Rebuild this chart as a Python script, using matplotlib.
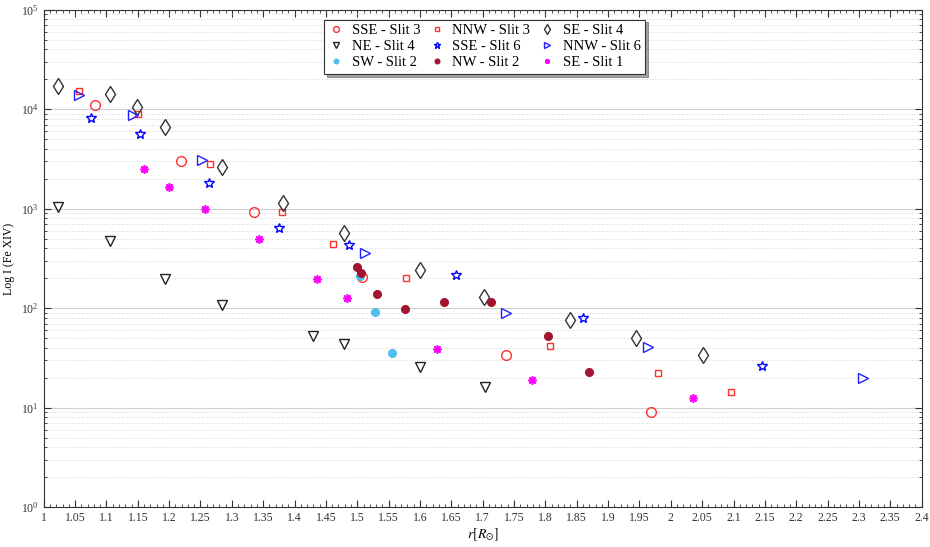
import matplotlib
matplotlib.use("Agg")
import matplotlib.pyplot as plt
from matplotlib.ticker import MultipleLocator, LogLocator, FormatStrFormatter, NullFormatter

plt.rcParams['font.family'] = ['Liberation Serif', 'DejaVu Serif']
plt.rcParams['mathtext.fontset'] = 'stix'

# ---- data (r in solar radii, intensity) ----
sse3_r = [1.081, 1.219, 1.335, 1.508, 1.738, 1.969]
sse3_i = [11100, 3020, 922, 207, 33.8, 9.1]

nnw3_r = [1.057, 1.150, 1.265, 1.380, 1.461, 1.577, 1.808, 1.980, 2.096]
nnw3_i = [15300, 9000, 2800, 922, 443, 199, 42, 22.1, 14.5]

se4_r = [1.023, 1.105, 1.149, 1.193, 1.284, 1.381, 1.479, 1.600, 1.702, 1.839, 1.944, 2.052]
se4_i = [17200, 14200, 10500, 6700, 2640, 1150, 567, 242, 131, 76.7, 50, 33.8]

ne4_r = [1.023, 1.105, 1.193, 1.285, 1.429, 1.479, 1.600, 1.703]
ne4_i = [1035, 474, 197, 108, 52.9, 43.6, 25.8, 16.2]

sse6_r = [1.076, 1.153, 1.264, 1.376, 1.487, 1.657, 1.860, 2.145]
sse6_i = [8130, 5600, 1800, 641, 429, 217, 80, 26.4]

nnw6_r = [1.056, 1.143, 1.253, 1.512, 1.738, 1.963, 2.306]
nnw6_i = [14000, 8850, 3100, 357, 89, 41, 20]

sw2_r = [1.504, 1.529, 1.556]
sw2_i = [212, 91, 35.4]

nw2_r = [1.500, 1.506, 1.532, 1.576, 1.638, 1.714, 1.804, 1.870]
nw2_i = [261, 224, 138, 98, 115, 115, 52.9, 22.8]

se1_r = [1.160, 1.200, 1.258, 1.344, 1.436, 1.483, 1.627, 1.778, 2.035]
se1_i = [2500, 1660, 995, 493, 198, 128, 38.9, 18.8, 12.4]

fig = plt.figure(figsize=(9.30, 5.47), dpi=100)
ax = fig.add_axes([0.047, 0.073, 0.944, 0.909])

h = {}
h['SSE - Slit 3'] = ax.plot(sse3_r, sse3_i, 'o', ls='none', mfc='none', mec='#ff3030', ms=7, mew=1.0)[0]
h['NNW - Slit 3'] = ax.plot(nnw3_r, nnw3_i, 's', ls='none', mfc='none', mec='#ff3030', ms=4.5, mew=1.0)[0]
h['SE - Slit 4'] = ax.plot(se4_r, se4_i, 'd', ls='none', mfc='none', mec='#333333', ms=8.5, mew=1.0)[0]
h['NE - Slit 4'] = ax.plot(ne4_r, ne4_i, 'v', ls='none', mfc='none', mec='#222222', ms=7.5, mew=1.0)[0]
h['SSE - Slit 6'] = ax.plot(sse6_r, sse6_i, '*', ls='none', mfc='none', mec='#0000ff', ms=7.5, mew=1.0)[0]
h['NNW - Slit 6'] = ax.plot(nnw6_r, nnw6_i, '>', ls='none', mfc='none', mec='#2020ff', ms=7.5, mew=1.0)[0]
h['SW - Slit 2'] = ax.plot(sw2_r, sw2_i, 'o', ls='none', mfc='#4DBEEE', mec='#4DBEEE', ms=5.5)[0]
h['NW - Slit 2'] = ax.plot(nw2_r, nw2_i, 'o', ls='none', mfc='#A2142F', mec='#A2142F', ms=5.5)[0]
h['SE - Slit 1'] = ax.plot(se1_r, se1_i, marker=(8, 2, 0), ls='none', mec='#ff00ff', ms=6, mew=1.2)[0]

ax.set_yscale('log')
ax.set_xlim(1, 2.4)
ax.set_ylim(1, 1e5)

ax.xaxis.set_major_locator(MultipleLocator(0.05))
ax.xaxis.set_minor_locator(MultipleLocator(0.01))
ax.xaxis.set_major_formatter(FormatStrFormatter('%g'))
ax.yaxis.set_major_locator(LogLocator(base=10, numticks=10))
ax.yaxis.set_minor_locator(LogLocator(base=10, subs=range(2, 10), numticks=20))
ax.yaxis.set_minor_formatter(NullFormatter())

ax.tick_params(which='both', direction='in', top=True, right=True, labelsize=8.5, colors='#333333')
ax.tick_params(which='major', length=5, width=0.8)
ax.tick_params(which='minor', length=2.5, width=0.6)

ax.grid(True, which='major', axis='y', color='#d0d0d0', lw=0.8, ls='-')
ax.grid(True, which='minor', axis='y', color='#c8c8c8', lw=0.6, ls=(0, (1, 2)))
ax.set_axisbelow(True)
for s in ax.spines.values():
    s.set_color('#333333')
    s.set_linewidth(0.8)

ax.set_ylabel('Log I (Fe XIV)', fontsize=8.5, labelpad=4)
ax.set_xlabel(r'$r[R_{\odot}]$', fontsize=10, labelpad=2)

order = ['SSE - Slit 3', 'NE - Slit 4', 'SW - Slit 2',
         'NNW - Slit 3', 'SSE - Slit 6', 'NW - Slit 2',
         'SE - Slit 4', 'NNW - Slit 6', 'SE - Slit 1']
leg = ax.legend([h[k] for k in order], order, ncol=3, loc='upper center',
                bbox_to_anchor=(0.502, 0.995), fontsize=10.5, markerscale=0.6,
                handlelength=1.1, handletextpad=0.5, columnspacing=0.6,
                labelspacing=0.2, borderpad=0.3, fancybox=False, shadow=True,
                framealpha=1, edgecolor='#333333')
leg.get_frame().set_linewidth(0.8)

fig.savefig('out.png', dpi=100)
